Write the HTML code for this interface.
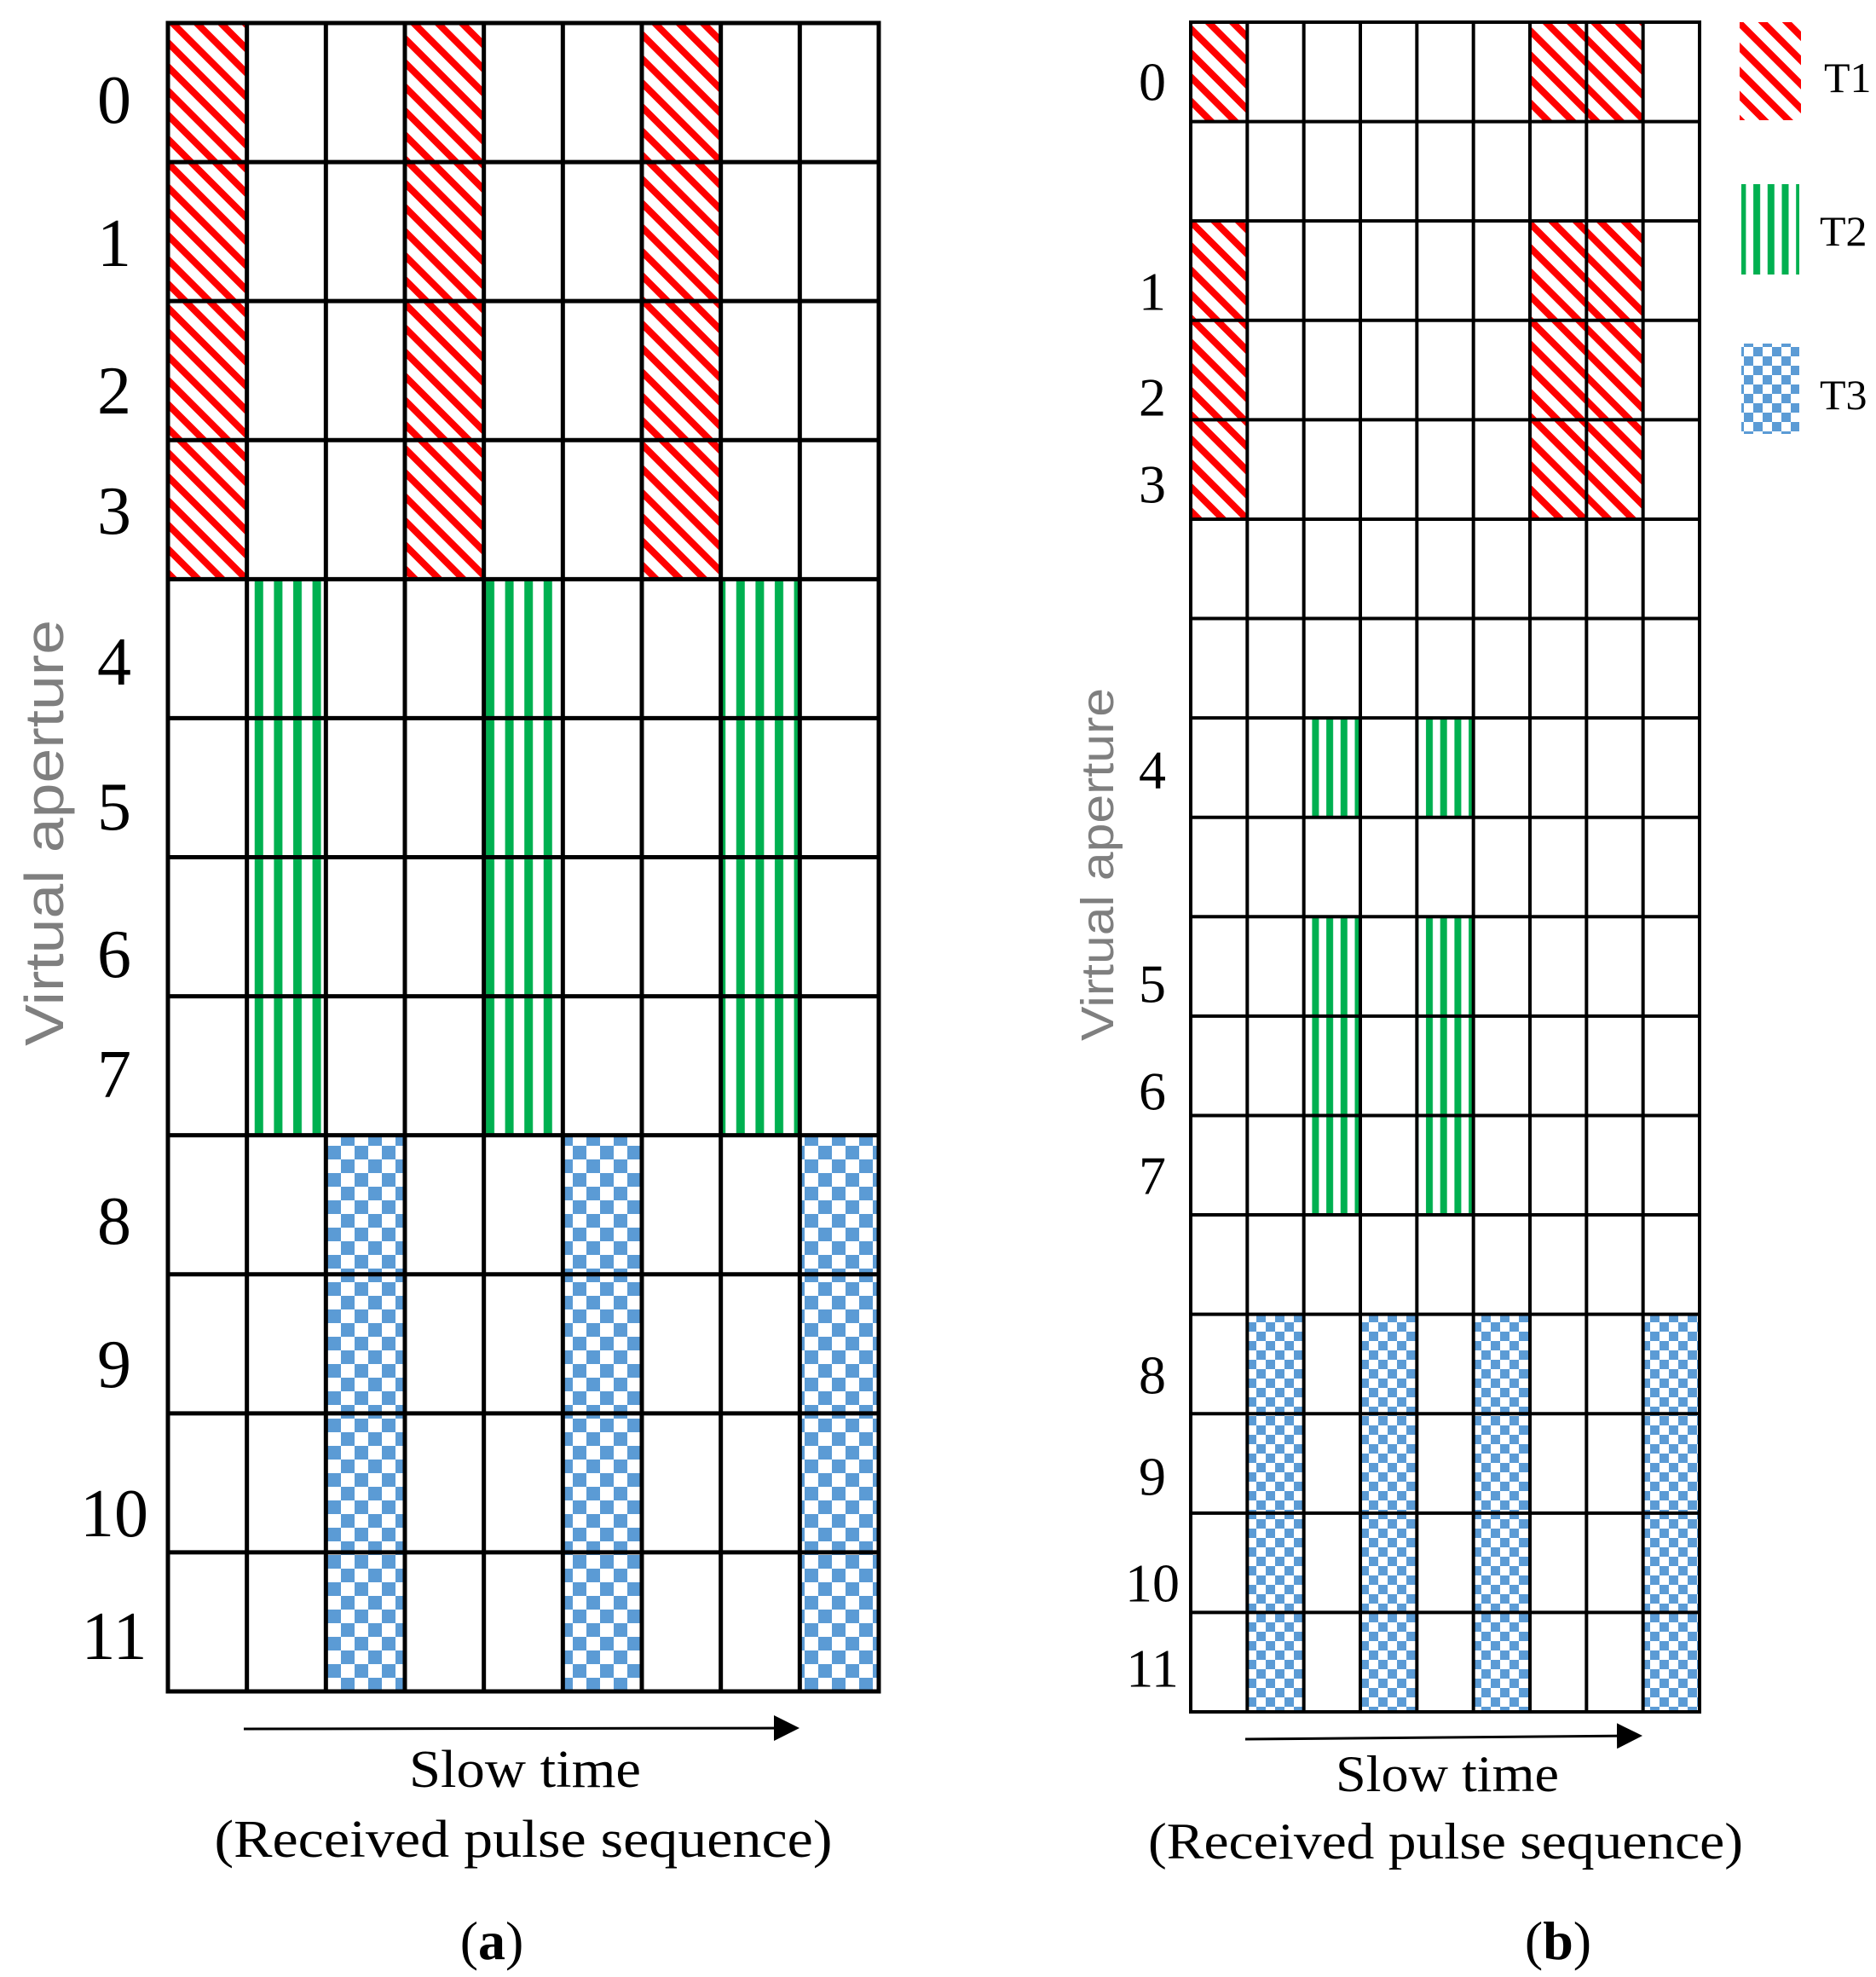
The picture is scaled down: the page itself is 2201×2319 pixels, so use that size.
<!DOCTYPE html>
<html><head><meta charset="utf-8"><style>
html,body{margin:0;padding:0;background:#fff;}
svg{display:block;}
</style></head><body>
<svg id="fig" width="2201" height="2319" viewBox="0 0 2201 2319" xmlns="http://www.w3.org/2000/svg">
<defs>
<pattern id="pRed" patternUnits="userSpaceOnUse" width="20" height="20" patternTransform="rotate(-45)"><rect width="20" height="20" fill="#fff"/><rect width="8" height="20" fill="#ff0000"/></pattern>
<pattern id="pGreenA" patternUnits="userSpaceOnUse" width="22.6" height="20" x="0"><rect width="22.6" height="20" fill="#fff"/><rect x="5" width="10" height="20" fill="#00b050"/></pattern>
<pattern id="pGreenB" patternUnits="userSpaceOnUse" width="16.7" height="20"><rect width="16.7" height="20" fill="#fff"/><rect x="3" width="8" height="20" fill="#00b050"/></pattern>
<pattern id="pBlueA" patternUnits="userSpaceOnUse" width="32" height="32"><rect width="32" height="32" fill="#fff"/><rect width="16" height="16" fill="#5b9bd5"/><rect x="16" y="16" width="16" height="16" fill="#5b9bd5"/></pattern>
<pattern id="pBlueB" patternUnits="userSpaceOnUse" width="22" height="22"><rect width="22" height="22" fill="#fff"/><rect width="11" height="11" fill="#5b9bd5"/><rect x="11" y="11" width="11" height="11" fill="#5b9bd5"/></pattern>
<marker id="arr" viewBox="0 0 10 10" refX="9" refY="5" markerWidth="30" markerHeight="30" orient="auto" markerUnits="userSpaceOnUse"><path d="M0,0 L10,5 L0,10 z" fill="#000"/></marker>
</defs>
<g id="gA"></g>
<g id="gB"></g>

<g font-family="Liberation Serif, serif" font-size="50">
<rect x="2041" y="26" width="72" height="115" fill="url(#pRed)"/>
<text x="2140" y="108">T1</text>
<rect x="2043" y="216" width="68" height="106" fill="url(#pGreenB)"/>
<text x="2135" y="288">T2</text>
<rect x="2043" y="403" width="68" height="106" fill="url(#pBlueB)"/>
<text x="2135" y="480">T3</text>
</g>

<g font-family="Liberation Serif, serif">
<line x1="286" y1="2028" x2="935" y2="2027" stroke="#000" stroke-width="3" marker-end="url(#arr)"/>
<text x="616" y="2096" font-size="62" text-anchor="middle" textLength="272" lengthAdjust="spacingAndGlyphs">Slow time</text>
<text x="614" y="2178" font-size="62" text-anchor="middle" textLength="725" lengthAdjust="spacingAndGlyphs">(Received pulse  sequence)</text>
<text x="577" y="2298" font-size="64" text-anchor="middle">(<tspan font-weight="bold">a</tspan>)</text>
<line x1="1461" y1="2040" x2="1924" y2="2036" stroke="#000" stroke-width="3" marker-end="url(#arr)"/>
<text x="1698" y="2101" font-size="60" text-anchor="middle" textLength="262" lengthAdjust="spacingAndGlyphs">Slow time</text>
<text x="1696" y="2180" font-size="60" text-anchor="middle" textLength="698" lengthAdjust="spacingAndGlyphs">(Received pulse sequence)</text>
<text x="1828" y="2298" font-size="64" text-anchor="middle">(<tspan font-weight="bold">b</tspan>)</text>
</g>
<text transform="translate(74,977) rotate(-90)" font-family="Liberation Sans, sans-serif" font-size="64" fill="#7f7f7f" text-anchor="middle" textLength="500" lengthAdjust="spacingAndGlyphs">Virtual aperture</text>
<text transform="translate(1306,1014) rotate(-90)" font-family="Liberation Sans, sans-serif" font-size="54" fill="#7f7f7f" text-anchor="middle" textLength="414" lengthAdjust="spacingAndGlyphs">Virtual aperture</text>
</svg>
<script>
// Panel A data: transmitter per row (0=none,1=T1,2=T2,3=T3), columns active per transmitter
const rowsA = [1,1,1,1,2,2,2,2,3,3,3,3];
const colsA_T1 = [0,3,6];
const colsA_T2 = [1,4,7];
const colsA_T3 = [2,5,8];
const labelsA = ['0','1','2','3','4','5','6','7','8','9','10','11'];
const labelYA = [118,286,459,600,777,947,1120,1261,1433,1601,1776,1920];
// Panel B data
const rowsB = [1,0,1,1,1,0,0,2,0,2,2,2,0,3,3,3,3];
const colsB_T1 = [0,6,7];
const colsB_T2 = [2,4];
const colsB_T3 = [1,3,5,8];
const labelsB = ['0','1','2','3','4','5','6','7','8','9','10','11'];
const labelYB = [96,342,466,568,903,1154,1280,1379,1613,1732,1857,1957];

const NS='http://www.w3.org/2000/svg';
function mk(tag,attrs,parent){const e=document.createElementNS(NS,tag);for(const k in attrs)e.setAttribute(k,attrs[k]);parent.appendChild(e);return e;}

function drawPanel(g,cfg){
  const nCols=9,nRows=cfg.rows.length;
  const cw=(cfg.x1-cfg.x0)/nCols, rh=(cfg.y1-cfg.y0)/nRows;
  const colX=c=>cfg.x0+c*cw, rowY=r=>cfg.y0+r*rh;
  cfg.rows.forEach((t,r)=>{
    if(!t)return;
    const cols=cfg.cols[t-1];
    cols.forEach(c=>{
      const rc=mk('rect',{x:colX(c),y:rowY(r),width:cw,height:rh,fill:'url(#'+cfg.fills[t-1]+')'},g);
      
      
    });
  });
  for(let c=0;c<=nCols;c++){
    const l=mk('line',{x1:colX(c),y1:cfg.y0,x2:colX(c),y2:cfg.y1,stroke:'#000','stroke-width':cfg.sw},g);
    
    
  }
  for(let r=0;r<=nRows;r++){
    const l=mk('line',{x1:cfg.x0-cfg.sw/2,y1:rowY(r),x2:cfg.x1+cfg.sw/2,y2:rowY(r),stroke:'#000','stroke-width':cfg.sw},g);
    
    
  }
  cfg.labels.forEach((s,i)=>{
    const t=mk('text',{x:cfg.lx,y:cfg.labelY[i],'font-family':'Liberation Serif, serif','font-size':cfg.fs,'text-anchor':'middle','dominant-baseline':'central'},g);
    t.textContent=s;
    
    
  });
}
drawPanel(document.getElementById('gA'),{x0:197,x1:1031,y0:27,y1:1984,sw:5,rows:rowsA,cols:[colsA_T1,colsA_T2,colsA_T3],fills:['pRed','pGreenA','pBlueA'],labels:labelsA,labelY:labelYA,lx:134,fs:80});
drawPanel(document.getElementById('gB'),{x0:1397,x1:1994,y0:26,y1:2008,sw:4,rows:rowsB,cols:[colsB_T1,colsB_T2,colsB_T3],fills:['pRed','pGreenB','pBlueB'],labels:labelsB,labelY:labelYB,lx:1352,fs:64});
</script>
</body></html>
